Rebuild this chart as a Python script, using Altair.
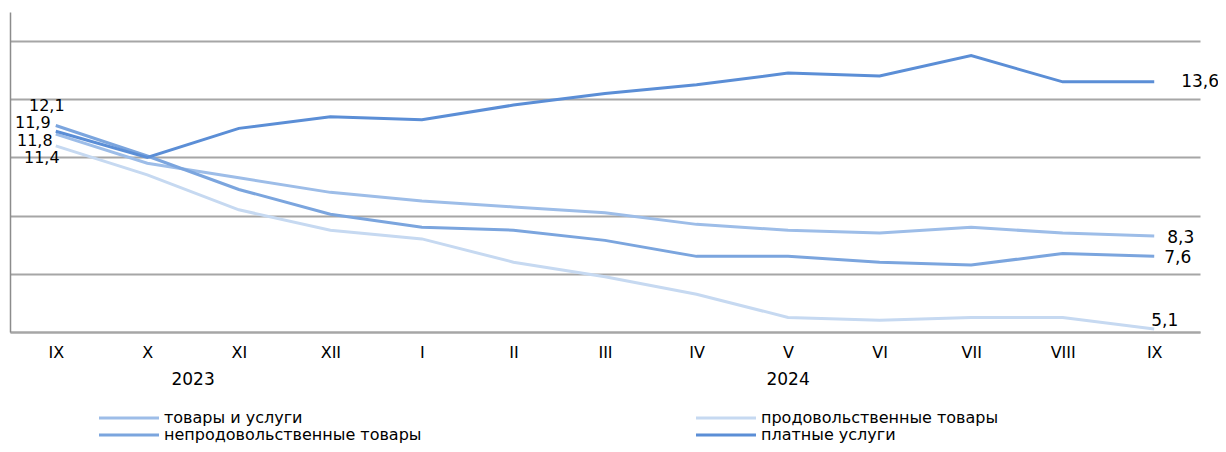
import altair as alt
import pandas as pd

months = ["IX", "X", "XI", "XII", "I", "II", "III", "IV", "V", "VI", "VII", "VIII", "IX"]
month_years = ["2023", "2023", "2023", "2023", "2024", "2024", "2024", "2024", "2024", "2024", "2024", "2024", "2024"]

series_names = ["товары и услуги", "продовольственные товары",
                "непродовольственные товары", "платные услуги"]

goods_services = [11.8, 10.8, 10.3, 9.8, 9.5, 9.3, 9.1, 8.7, 8.5, 8.4, 8.6, 8.4, 8.3]
food = [11.4, 10.4, 9.2, 8.5, 8.2, 7.4, 6.9, 6.3, 5.5, 5.4, 5.5, 5.5, 5.1]
non_food = [12.1, 11.05, 9.9, 9.05, 8.6, 8.5, 8.15, 7.6, 7.6, 7.4, 7.3, 7.7, 7.6]
paid_services = [11.9, 11.0, 12.0, 12.4, 12.3, 12.8, 13.2, 13.5, 13.9, 13.8, 14.5, 13.6, 13.6]

values = [goods_services, food, non_food, paid_services]
colors = ["#9DBDE8", "#C6D9F1", "#7BA5DE", "#5B8ED6"]

rows = []
for name, vals in zip(series_names, values):
    for i, v in enumerate(vals):
        rows.append({"series": name, "idx": i, "value": v})
df = pd.DataFrame(rows)

yr = pd.DataFrame({"year": month_years, "idx": range(len(months))})
year_df = yr.groupby("year", as_index=False)["idx"].mean()

FONT = "DejaVu Sans"
label_expr = "[" + ",".join(f"'{m}'" for m in months) + "][datum.value]"

x_enc = alt.X("idx:Q",
              scale=alt.Scale(domain=[-0.5, len(months) - 0.5], nice=False, zero=False),
              axis=alt.Axis(values=list(range(len(months))), labelExpr=label_expr,
                            grid=False, ticks=False, domainColor="#A6A6A6", domainWidth=2,
                            labelFont=FONT, labelFontSize=16, labelColor="black",
                            labelPadding=12, title=None))
y_enc = alt.Y("value:Q",
              scale=alt.Scale(domain=[5, 16], nice=False, zero=False),
              axis=alt.Axis(values=[5, 7, 9, 11, 13, 15], labels=False, ticks=False,
                            grid=True, gridColor="#A6A6A6", gridWidth=2,
                            domainColor="#8C8C8C", domainWidth=1.5, title=None))

# wide line symbol: path spans 5x the nominal symbol size
color_enc = alt.Color("series:N",
                      scale=alt.Scale(domain=series_names, range=colors),
                      sort=series_names,
                      legend=alt.Legend(orient="none", legendX=111, legendY=398,
                                        direction="horizontal", columns=2,
                                        symbolType="M-5,0H5", symbolSize=144,
                                        symbolStrokeWidth=3, symbolFillColor="transparent",
                                        labelFont=FONT,
                                        labelFontSize=16, labelColor="black",
                                        labelOffset=27, labelLimit=700,
                                        columnPadding=268, rowPadding=1, title=None))

lines = alt.Chart(df).mark_line(strokeWidth=3).encode(
    x=x_enc, y=y_enc, color=color_enc,
    order=alt.Order("idx:Q"),
)

# label placement styles (offsets) per series: start (dx, dy), end (dx, dy)
start_style = {
    "непродовольственные товары": (-9, -19),
    "платные услуги": (-23, -8),
    "товары и услуги": (-21, 7),
    "продовольственные товары": (-14, 12),
}
end_style = {
    "платные услуги": (27, 0),
    "товары и услуги": (13, 2),
    "непродовольственные товары": (10, 2),
    "продовольственные товары": (-3, -8),
}

last_idx = len(months) - 1
label_layers = []
for name in series_names:
    sdx, sdy = start_style[name]
    edx, edy = end_style[name]
    base = alt.Chart(df).transform_filter(alt.datum.series == name).transform_calculate(
        lab="replace(format(datum.value, '.1f'), '.', ',')")
    label_layers.append(
        base.transform_filter(alt.datum.idx == 0).mark_text(
            font=FONT, fontSize=16, color="black", align="center", baseline="middle",
            dx=sdx, dy=sdy).encode(x="idx:Q", y="value:Q", text="lab:N"))
    label_layers.append(
        base.transform_filter(alt.datum.idx == last_idx).mark_text(
            font=FONT, fontSize=17, color="black", align="left", baseline="middle",
            dx=edx, dy=edy).encode(x="idx:Q", y="value:Q", text="lab:N"))

years = alt.Chart(year_df).mark_text(
    font=FONT, fontSize=17, color="black", align="center", baseline="middle").encode(
    x="idx:Q", y=alt.value(368), text="year:N")

chart = alt.layer(lines, *label_layers, years).properties(
    width=1190, height=320,
    autosize=alt.AutoSizeParams(type="none"),
    padding={"left": 2, "top": 4, "right": 18, "bottom": 112},
).configure_view(stroke=None)

chart.save("out.html", embed_options={"renderer": "svg", "actions": False})
